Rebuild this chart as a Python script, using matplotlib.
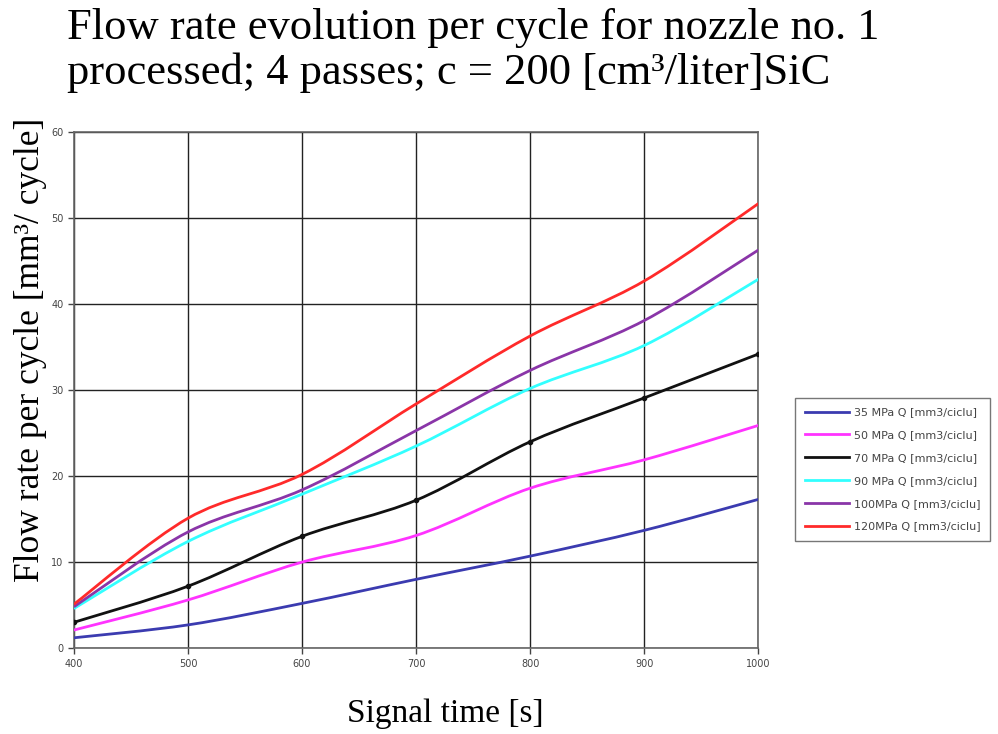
import numpy as np
import matplotlib.pyplot as plt
from matplotlib.path import Path
from matplotlib.patches import PathPatch
from matplotlib.lines import Line2D

# Data
signal_time = [400, 500, 600, 700, 800, 900, 1000]
q_35 = [1.2, 2.7, 5.2, 8.0, 10.7, 13.7, 17.3]
q_50 = [2.1, 5.6, 10.0, 13.1, 18.6, 21.9, 25.9]
q_70 = [3.0, 7.2, 13.0, 17.2, 24.0, 29.1, 34.2]
q_90 = [4.6, 12.4, 17.9, 23.5, 30.2, 35.2, 42.9]
q_100 = [4.8, 13.5, 18.4, 25.3, 32.3, 38.1, 46.3]
q_120 = [5.1, 15.1, 20.2, 28.4, 36.3, 42.7, 51.7]

labels = ['35 MPa Q [mm3/ciclu]', '50 MPa Q [mm3/ciclu]', '70 MPa Q [mm3/ciclu]',
          '90 MPa Q [mm3/ciclu]', '100MPa Q [mm3/ciclu]', '120MPa Q [mm3/ciclu]']
colors = ['#3b3bb0', '#ff33ff', '#111111', '#33ffff', '#8a35a8', '#ff2a2a']
series = [q_35, q_50, q_70, q_90, q_100, q_120]


def smooth_path(x, y):
    # Excel-like smoothed line: Catmull-Rom segments as cubic Beziers
    p = np.column_stack([x, y]).astype(float)
    ext = np.vstack([p[0], p, p[-1]])
    verts = [p[0]]
    codes = [Path.MOVETO]
    for i in range(1, len(ext) - 2):
        c1 = ext[i] + (ext[i + 1] - ext[i - 1]) / 6.0
        c2 = ext[i + 1] - (ext[i + 2] - ext[i]) / 6.0
        verts += [c1, c2, ext[i + 1]]
        codes += [Path.CURVE4] * 3
    return Path(verts, codes)


fig = plt.figure(figsize=(9.98, 7.34), dpi=100)
ax = fig.add_axes([0.074, 0.117, 0.686, 0.703])

handles = []
for vals, col, lab in zip(series, colors, labels):
    ax.add_patch(PathPatch(smooth_path(signal_time, vals), fill=False,
                           edgecolor=col, lw=2.0, zorder=3))
    if col == '#111111':
        ax.plot(signal_time, vals, 'o', color=col, ms=3, zorder=4)
    handles.append(Line2D([], [], color=col, lw=2.0))

ax.set_xlim(400, 1000)
ax.set_ylim(0, 60)
ax.set_xticks(signal_time)
ax.set_yticks(range(0, 61, 10))
ax.grid(True, color='#222222', lw=1.0)
ax.set_axisbelow(True)
ax.tick_params(labelsize=7, colors='#444444', length=4, width=1)
for s in ax.spines.values():
    s.set_color('#666666')
    s.set_linewidth(1.2)

serif = 'Liberation Serif'
fig.text(445 / 998, 1 - 714 / 734, 'Signal time [s]', family=serif, fontsize=24,
         ha='center', va='center')
fig.text(31 / 998, 1 - 350 / 734, 'Flow rate per cycle [mm\u00b3/ cycle]', family=serif,
         fontsize=25.5, rotation=90, ha='center', va='center')

fig.text(0.067, 1 - 39 / 734, 'Flow rate evolution per cycle for nozzle no. 1',
         family=serif, fontsize=32, va='baseline', ha='left')
fig.text(0.067, 1 - 84 / 734, 'processed; 4 passes; c = 200 [cm\u00b3/liter]SiC',
         family=serif, fontsize=32, va='baseline', ha='left')

leg = fig.legend(handles, labels, loc='upper left', bbox_to_anchor=(0.791, 0.466),
                 bbox_transform=fig.transFigure, fontsize=8, handlelength=4.0,
                 labelspacing=1.15, borderpad=0.9, handletextpad=0.4, fancybox=False,
                 edgecolor='#777777', framealpha=1)
for t in leg.get_texts():
    t.set_color('#444444')

plt.savefig('out.png', dpi=100)
